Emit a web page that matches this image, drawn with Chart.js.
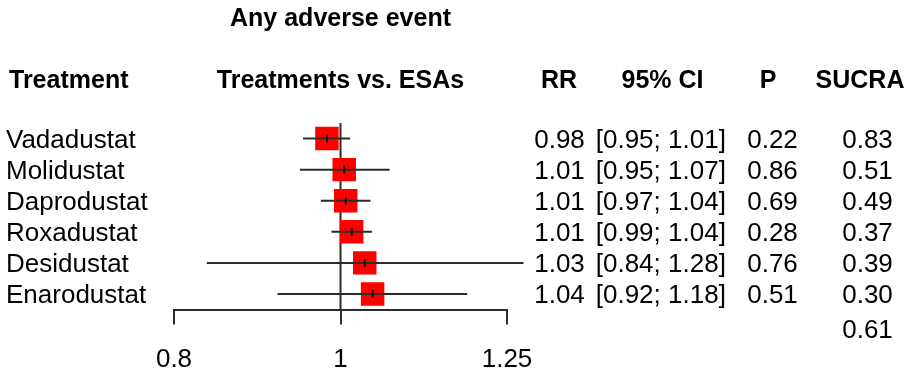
<!DOCTYPE html>
<html>
<head>
    <title>Any adverse event</title>
    <script src="https://cdn.jsdelivr.net/npm/chart.js@4.4.1/dist/chart.umd.min.js"></script>
    <style>
        body { margin: 0; background: #fff; }
        #forest { display: block; }
    </style>
</head>
<body>
    <canvas id="forest" width="912" height="370"></canvas>

    <script>
        // Data
        const treatments = ['Vadadustat', 'Molidustat', 'Daprodustat', 'Roxadustat', 'Desidustat', 'Enarodustat'];
        const rr = [0.982, 1.005, 1.007, 1.015, 1.033, 1.044];
        const lower = [0.951, 0.947, 0.974, 0.988, 0.836, 0.919];
        const upper = [1.013, 1.068, 1.041, 1.043, 1.278, 1.185];
        const rrLabels = ['0.98', '1.01', '1.01', '1.01', '1.03', '1.04'];
        const ciLabels = ['[0.95; 1.01]', '[0.95; 1.07]', '[0.97; 1.04]', '[0.99; 1.04]', '[0.84; 1.28]', '[0.92; 1.18]'];
        const pValues = ['0.22', '0.86', '0.69', '0.28', '0.76', '0.51'];
        const sucra = ['0.83', '0.51', '0.49', '0.37', '0.39', '0.30', '0.61'];
        const xTicks = [0.8, 1, 1.25];

        const FONT = '"Liberation Sans", Arial, Helvetica, sans-serif';
        const LINE = '#2b2b2b';

        // text columns drawn around the chart area
        const tablePlugin = {
            id: 'forestTable',
            afterDraw(chart) {
                const ctx = chart.ctx;
                const y = chart.scales.y;
                ctx.save();
                ctx.fillStyle = '#000';
                ctx.textBaseline = 'alphabetic';

                ctx.font = 'bold 25px ' + FONT;
                ctx.textAlign = 'center';
                ctx.fillText('Any adverse event', 340.5, 26);

                ctx.textAlign = 'left';
                ctx.fillText('Treatment', 9, 88);
                ctx.textAlign = 'center';
                ctx.fillText('Treatments vs. ESAs', 340.5, 88);
                ctx.fillText('RR', 559, 88);
                ctx.fillText('95% CI', 662.5, 88);
                ctx.fillText('P', 768, 88);
                ctx.fillText('SUCRA', 860, 88);

                ctx.font = '26px ' + FONT;
                treatments.forEach((name, i) => {
                    const base = y.getPixelForValue(i) + 9.5;
                    ctx.textAlign = 'left';
                    ctx.fillText(name, 6, base);
                    ctx.textAlign = 'center';
                    ctx.fillText(rrLabels[i], 559.5, base);
                    ctx.fillText(ciLabels[i], 660.8, base);
                    ctx.fillText(pValues[i], 772.5, base);
                    ctx.fillText(sucra[i], 867.5, base);
                });
                // reference treatment (ESAs)
                ctx.fillText(sucra[6], 867.5, y.getPixelForValue(6) + 13);
                ctx.restore();
            }
        };

        const ciSets = treatments.map((t, i) => ({
            type: 'line',
            label: t + ' CI',
            data: [{ x: lower[i], y: i }, { x: upper[i], y: i }],
            borderColor: LINE,
            borderWidth: 2,
            pointRadius: 0,
            clip: false,
            order: 1
        }));

        new Chart(document.getElementById('forest'), {
            type: 'scatter',
            data: {
                datasets: [
                    {
                        label: 'estimate mark',
                        data: rr.map((v, i) => ({ x: v, y: i })),
                        pointStyle: 'line',
                        rotation: 90,
                        radius: 4,
                        borderColor: '#111',
                        borderWidth: 2,
                        order: 0
                    },
                    ...ciSets,
                    {
                        label: 'RR',
                        data: rr.map((v, i) => ({ x: v, y: i })),
                        pointStyle: 'rect',
                        radius: 16.6,
                        backgroundColor: '#ff0000',
                        borderWidth: 0,
                        order: 2
                    },
                    {
                        type: 'line',
                        label: 'no effect',
                        data: [{ x: 1, y: -0.5 }, { x: 1, y: 5.5 }],
                        borderColor: LINE,
                        borderWidth: 2,
                        pointRadius: 0,
                        order: 3
                    }
                ]
            },
            options: {
                responsive: false,
                animation: false,
                layout: {
                    padding: { left: 174, right: 405, top: 123, bottom: 0 }
                },
                scales: {
                    x: {
                        type: 'logarithmic',
                        position: 'bottom',
                        min: 0.8,
                        max: 1.25,
                        afterBuildTicks: (scale) => {
                            scale.ticks = xTicks.map(v => ({ value: v }));
                        },
                        afterFit: (scale) => {
                            scale.height = 60.5;
                        },
                        ticks: {
                            color: '#000',
                            padding: 20,
                            maxRotation: 0,
                            font: { family: FONT, size: 26 },
                            callback: (v) => String(v)
                        },
                        grid: {
                            drawOnChartArea: false,
                            drawTicks: true,
                            tickLength: 15,
                            color: LINE,
                            lineWidth: 2
                        },
                        border: { display: true, color: LINE, width: 2 }
                    },
                    y: {
                        type: 'linear',
                        min: -0.5,
                        max: 5.5,
                        reverse: true,
                        display: false
                    }
                },
                plugins: {
                    legend: { display: false },
                    tooltip: { enabled: false }
                }
            },
            plugins: [tablePlugin]
        });
    </script>
</body>
</html>
